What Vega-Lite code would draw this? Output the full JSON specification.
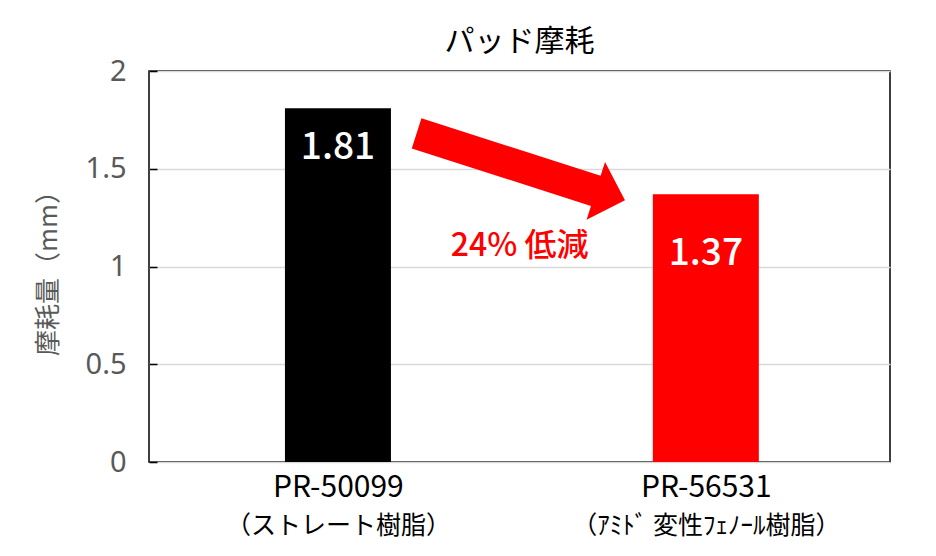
{
  "$schema": "https://vega.github.io/schema/vega-lite/v6.json",
  "autosize": {"type": "none"},
  "width": 741,
  "height": 391,
  "padding": {"left": 149, "top": 71, "right": 46, "bottom": 94},
  "background": "white",
  "title": {"text": "パッド摩耗", "font": "Noto Sans CJK JP", "fontSize": 30, "fontWeight": "normal", "color": "#000000", "anchor": "middle", "offset": 0},
  "config": {
    "view": {"stroke": "#000000", "strokeWidth": 1.5},
    "font": "Noto Sans CJK JP"
  },
  "datasets": {
    "bars": [
      {"idx": 0, "product": "PR-50099", "resin": "（ストレート樹脂）", "wear": 1.81},
      {"idx": 1, "product": "PR-56531", "resin": "（ｱﾐﾄﾞ 変性ﾌｪﾉｰﾙ樹脂）", "wear": 1.37}
    ],
    "arrow": [{"x": 0.497, "y": 1.51}],
    "note": [{"x": 0.494, "y": 1.105, "label": "24% 低減"}]
  },
  "resolve": {"axis": {"x": "independent"}},
  "layer": [
    {
      "data": {"name": "bars"},
      "mark": {"type": "bar", "size": 106},
      "encoding": {
        "x": {"field": "idx", "type": "quantitative",
          "scale": {"domain": [-0.5, 1.487], "nice": false, "zero": false},
          "axis": {"orient": "bottom", "values": [0, 1], "labelExpr": "datum.value == 0 ? 'PR-50099' : 'PR-56531'",
            "title": null, "ticks": false, "domain": false, "grid": false, "labelLimit": 500,
            "labelFont": "Noto Sans CJK JP", "labelFontSize": 30, "labelColor": "#000000", "labelPadding": 10, "labelBaseline": "top"}},
        "y": {"field": "wear", "type": "quantitative",
          "scale": {"domain": [0, 2], "nice": false},
          "axis": {"values": [0, 0.5, 1, 1.5, 2], "format": "~g", "title": "摩耗量（mm）", "titleFont": "Noto Sans CJK JP", "titleFontSize": 26, "titleFontWeight": "normal", "titleColor": "#595959", "titlePadding": 24,
            "labelFont": "Noto Sans", "labelFontSize": 29, "labelColor": "#595959", "labelPadding": 31,
            "domain": false, "tickSize": -8, "tickColor": "#000000", "tickWidth": 1.5,
            "grid": true, "gridColor": "#d9d9d9", "gridWidth": 1.5}},
        "color": {"field": "product", "type": "nominal", "scale": {"domain": ["PR-50099", "PR-56531"], "range": ["#000000", "#ff0000"]}, "legend": null}
      }
    },
    {
      "data": {"name": "bars"},
      "transform": [{"filter": "datum.idx == 0"}],
      "mark": {"type": "text", "color": "#ffffff", "fontSize": 37, "fontWeight": 500, "font": "Noto Sans CJK JP", "baseline": "middle", "dy": 40},
      "encoding": {
        "x": {"field": "idx", "type": "quantitative",
          "axis": {"orient": "bottom", "values": [0, 1], "labelExpr": "datum.value == 0 ? '（ストレート樹脂）' : '（ｱﾐﾄﾞ 変性ﾌｪﾉｰﾙ樹脂）'",
            "title": null, "ticks": false, "domain": false, "grid": false, "labelLimit": 500,
            "labelFont": "Noto Sans CJK JP", "labelFontSize": 25, "labelColor": "#000000", "labelPadding": 51, "labelBaseline": "top"}},
        "y": {"field": "wear", "type": "quantitative"},
        "text": {"field": "wear", "type": "quantitative", "format": ".2f"}
      }
    },
    {
      "data": {"name": "bars"},
      "transform": [{"filter": "datum.idx == 1"}],
      "mark": {"type": "text", "color": "#ffffff", "fontSize": 37, "fontWeight": 500, "font": "Noto Sans CJK JP", "baseline": "middle", "dy": 60},
      "encoding": {
        "x": {"field": "idx", "type": "quantitative", "axis": null},
        "y": {"field": "wear", "type": "quantitative"},
        "text": {"field": "wear", "type": "quantitative", "format": ".2f"}
      }
    },
    {
      "data": {"name": "arrow"},
      "mark": {"type": "point", "filled": true, "color": "#ff0000", "opacity": 1, "strokeWidth": 0, "size": 47870, "angle": 17.75,
        "shape": "M -1 -0.145 L 0.72 -0.145 L 0.72 -0.277 L 1 0 L 0.72 0.277 L 0.72 0.145 L -1 0.145 Z"},
      "encoding": {
        "x": {"field": "x", "type": "quantitative", "axis": null},
        "y": {"field": "y", "type": "quantitative"}
      }
    },
    {
      "data": {"name": "note"},
      "mark": {"type": "text", "color": "#ff0000", "fontSize": 32, "fontWeight": 500, "font": "Noto Sans CJK JP", "baseline": "middle", "align": "center"},
      "encoding": {
        "x": {"field": "x", "type": "quantitative", "axis": null},
        "y": {"field": "y", "type": "quantitative"},
        "text": {"field": "label", "type": "nominal"}
      }
    }
  ]
}
